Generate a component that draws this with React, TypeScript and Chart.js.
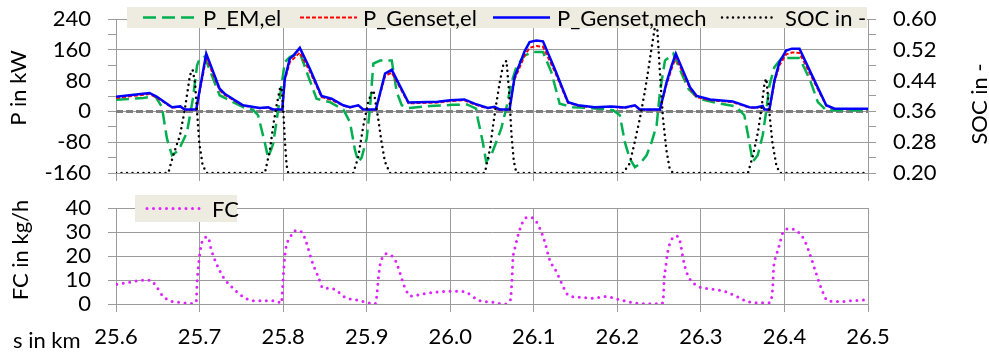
import React, { useEffect, useRef } from 'react';
import { Chart, registerables } from 'chart.js';
Chart.register(...registerables);

// ---------- data ----------
const sTicks = [25.6, 25.7, 25.8, 25.9, 26.0, 26.1, 26.2, 26.3, 26.4, 26.5];
const pTicks = [-160, -120, -80, -40, 0, 40, 80, 120, 160, 200, 240];
const socTicks = [0.2, 0.24, 0.28, 0.32, 0.36, 0.4, 0.44, 0.48, 0.52, 0.56, 0.6];
const fcTicks = [0, 10, 20, 30, 40];

// P_Genset,mech and P_Genset,el share the same distance points
const sGen = [25.600, 25.640, 25.649, 25.667, 25.677, 25.682, 25.696, 25.708, 25.724, 25.730, 25.752, 25.772, 25.782, 25.788, 25.799, 25.802, 25.808, 25.813, 25.820, 25.832, 25.846, 25.858, 25.872, 25.880, 25.890, 25.896, 25.911, 25.922, 25.930, 25.950, 25.985, 26.000, 26.017, 26.029, 26.045, 26.053, 26.059, 26.071, 26.077, 26.089, 26.095, 26.103, 26.111, 26.125, 26.141, 26.153, 26.173, 26.193, 26.209, 26.221, 26.227, 26.251, 26.259, 26.265, 26.270, 26.287, 26.295, 26.311, 26.338, 26.358, 26.366, 26.374, 26.376, 26.382, 26.388, 26.394, 26.402, 26.409, 26.418, 26.434, 26.450, 26.460, 26.500];
const pGensetMech = [38, 48, 38, 11, 13, 5, 5, 150, 59, 46, 16, 9, 11, 5, 5, 85, 137, 147, 165, 111, 40, 33, 16, 11, 16, 5, 5, 98, 108, 23, 25, 29, 31, 20, 9, 12, 5, 5, 89, 156, 180, 184, 182, 111, 24, 16, 11, 13, 10, 16, 5, 5, 76, 119, 150, 63, 40, 31, 26, 11, 10, 14, 5, 5, 80, 128, 158, 163, 163, 89, 16, 7, 7];
const pGensetEl = [35, 45, 36, 10, 12, 4, 4, 140, 55, 43, 15, 8, 10, 4, 4, 80, 128, 138, 153, 104, 37, 30, 15, 10, 15, 4, 4, 92, 101, 21, 23, 27, 29, 18, 8, 11, 4, 4, 83, 145, 165, 170, 168, 104, 22, 15, 10, 12, 9, 15, 4, 4, 71, 111, 140, 59, 37, 29, 24, 10, 9, 13, 4, 4, 75, 120, 148, 153, 152, 83, 15, 6, 6];

const sEM = [25.600, 25.633, 25.647, 25.655, 25.661, 25.667, 25.675, 25.685, 25.692, 25.697, 25.700, 25.706, 25.724, 25.752, 25.764, 25.770, 25.778, 25.782, 25.788, 25.792, 25.797, 25.802, 25.808, 25.820, 25.832, 25.840, 25.856, 25.872, 25.880, 25.886, 25.890, 25.894, 25.900, 25.904, 25.908, 25.916, 25.930, 25.936, 25.942, 25.950, 25.976, 26.003, 26.020, 26.031, 26.033, 26.039, 26.043, 26.049, 26.055, 26.061, 26.067, 26.073, 26.079, 26.089, 26.099, 26.111, 26.121, 26.131, 26.147, 26.179, 26.195, 26.203, 26.209, 26.215, 26.221, 26.227, 26.235, 26.241, 26.247, 26.251, 26.257, 26.267, 26.277, 26.285, 26.297, 26.323, 26.342, 26.352, 26.358, 26.362, 26.368, 26.374, 26.378, 26.382, 26.388, 26.396, 26.405, 26.418, 26.430, 26.440, 26.450, 26.500];
const pEM = [30, 35, 40, 11, -71, -114, -101, -54, 33, 119, 137, 142, 42, 11, 4, -10, -80, -120, -85, -28, 50, 128, 141, 152, 80, 33, 24, 5, -28, -100, -131, -120, -71, 10, 124, 132, 132, 50, 16, 9, 14, 17, 18, 7, -19, -80, -131, -114, -80, -45, 7, 72, 115, 145, 154, 154, 102, 20, 11, 7, 3, -10, -80, -123, -145, -136, -114, -80, -36, 50, 132, 150, 98, 59, 33, 20, 13, -10, -80, -131, -114, -62, -2, 67, 115, 137, 139, 139, 85, 24, 3, 3];

const sSOC = [25.600, 25.6626, 25.6685, 25.6766, 25.6825, 25.6885, 25.6917, 25.6945, 25.6973, 25.6996, 25.7037, 25.7085, 25.7782, 25.7842, 25.7882, 25.7922, 25.7962, 25.7982, 25.8001, 25.8022, 25.8042, 25.8061, 25.8839, 25.8898, 25.8958, 25.9018, 25.9071, 25.9086, 25.9138, 25.9178, 25.9218, 25.9278, 26.0414, 26.0474, 26.0513, 26.0554, 26.0593, 26.0633, 26.0673, 26.0705, 26.0733, 26.0761, 26.0793, 26.2068, 26.2148, 26.2208, 26.2268, 26.2328, 26.2367, 26.2408, 26.2447, 26.2471, 26.2507, 26.2547, 26.2587, 26.2627, 26.2667, 26.3563, 26.3623, 26.3683, 26.3724, 26.3763, 26.3784, 26.3815, 26.3855, 26.3903, 26.3943, 26.500];
const socValues = [0.20, 0.20, 0.246, 0.298, 0.367, 0.454, 0.468, 0.436, 0.35, 0.28, 0.22, 0.20, 0.20, 0.26, 0.324, 0.376, 0.419, 0.423, 0.367, 0.28, 0.22, 0.20, 0.20, 0.24, 0.32, 0.384, 0.415, 0.41, 0.341, 0.28, 0.23, 0.20, 0.20, 0.26, 0.324, 0.384, 0.436, 0.479, 0.492, 0.41, 0.30, 0.23, 0.20, 0.20, 0.225, 0.28, 0.34, 0.41, 0.463, 0.522, 0.575, 0.60, 0.47, 0.34, 0.26, 0.21, 0.20, 0.20, 0.245, 0.306, 0.367, 0.436, 0.445, 0.367, 0.28, 0.22, 0.20, 0.20];

const sFC = [25.601, 25.617, 25.633, 25.641, 25.647, 25.655, 25.665, 25.677, 25.691, 25.696, 25.697, 25.699, 25.701, 25.704, 25.710, 25.714, 25.720, 25.728, 25.740, 25.752, 25.764, 25.780, 25.792, 25.798, 25.799, 25.801, 25.803, 25.808, 25.816, 25.823, 25.828, 25.834, 25.842, 25.848, 25.856, 25.864, 25.874, 25.888, 25.900, 25.910, 25.912, 25.914, 25.916, 25.918, 25.923, 25.930, 25.935, 25.940, 25.945, 25.953, 25.968, 25.984, 26.000, 26.014, 26.021, 26.035, 26.049, 26.064, 26.072, 26.074, 26.075, 26.078, 26.082, 26.087, 26.092, 26.099, 26.107, 26.113, 26.119, 26.127, 26.133, 26.141, 26.155, 26.171, 26.187, 26.200, 26.215, 26.231, 26.253, 26.255, 26.256, 26.258, 26.260, 26.264, 26.269, 26.272, 26.275, 26.279, 26.283, 26.287, 26.299, 26.314, 26.328, 26.342, 26.356, 26.372, 26.382, 26.386, 26.387, 26.390, 26.394, 26.398, 26.406, 26.414, 26.424, 26.430, 26.437, 26.444, 26.452, 26.466, 26.482, 26.498];
const fcValues = [8.2, 9.1, 9.9, 9.9, 8.0, 3.8, 1.3, 0.7, 0.2, 1.0, 8.7, 17, 22.6, 26.8, 27.9, 22.6, 17, 11.4, 6.6, 3.1, 1.4, 1.4, 1.3, 0.3, 4.5, 15.6, 22.6, 27.5, 30.7, 29.6, 25.4, 18.4, 11.4, 6.6, 6.6, 5.6, 2.8, 1.7, 0.7, 0, 3.1, 10.8, 16.3, 18.7, 20.9, 20.1, 17.7, 12.8, 7.5, 3.3, 4.2, 5.0, 5.3, 5.3, 4.5, 1.4, 0.8, 0, 1.7, 10.8, 18.4, 24, 29.6, 34.3, 36.1, 35.8, 31.7, 26.1, 18.4, 13.5, 8.9, 3.8, 2.8, 2.4, 3.1, 2.0, 0.8, 0.1, 0.1, 2.4, 10, 15.6, 21.2, 26.1, 28.2, 28.2, 26.1, 18.4, 13.1, 10.3, 7.0, 6.2, 5.3, 3.3, 1.0, 0.5, 0.5, 7.2, 14.9, 19.8, 24.7, 29.6, 31.3, 30.7, 26.5, 21.2, 13.8, 6.6, 1.3, 1.0, 1.4, 1.7];

const sZero = [25.6, 26.5];
const pZero = [0, 0];

// ---------- style ----------
const FONT = 'Lato, "Open Sans", sans-serif';
const FS = 22;
const GRID = '#9b9b9b';
const LEGEND_BG = '#EEECE1';

const pts = (xs: number[], ys: number[]) => xs.map((x, i) => ({ x, y: ys[i] }));

type LegendItem = { ds: number; x0: number; x1: number; tx: number };
type LegendSpec = { x: number; y: number; w: number; h: number; items: LegendItem[] };
type TitleSpec = { text: string; x: number; y: number; rot: number; align?: CanvasTextAlign };

function makeDeco(legend: LegendSpec, titles: TitleSpec[]) {
  return {
    id: 'deco',
    afterDraw(chart: any) {
      const ctx: CanvasRenderingContext2D = chart.ctx;
      ctx.save();
      ctx.font = `${FS}px ${FONT}`;
      ctx.textBaseline = 'middle';
      ctx.fillStyle = LEGEND_BG;
      ctx.fillRect(legend.x, legend.y, legend.w, legend.h);
      const cy = legend.y + legend.h / 2;
      for (const it of legend.items) {
        const ds = chart.data.datasets[it.ds];
        ctx.save();
        ctx.strokeStyle = ds.borderColor;
        ctx.lineWidth = ds.borderWidth;
        ctx.setLineDash(ds.borderDash || []);
        ctx.lineCap = ds.borderCapStyle || 'butt';
        ctx.beginPath();
        ctx.moveTo(it.x0, cy);
        ctx.lineTo(it.x1, cy);
        ctx.stroke();
        ctx.restore();
        ctx.fillStyle = '#000';
        ctx.textAlign = 'left';
        ctx.fillText(ds.label, it.tx, cy + 1);
      }
      for (const t of titles) {
        ctx.save();
        ctx.translate(t.x, t.y);
        ctx.rotate(t.rot);
        ctx.fillStyle = '#000';
        ctx.textAlign = t.align || 'center';
        ctx.fillText(t.text, 0, 0);
        ctx.restore();
      }
      ctx.restore();
    },
  };
}

const setTicks = (vals: number[]) => (scale: any) => {
  scale.ticks = vals.map((v) => ({ value: v }));
};
const fitV = (w: number) => (s: any) => { s.width = w; s.paddingTop = 0; s.paddingBottom = 0; };
const fitH = (h: number) => (s: any) => { s.height = h; s.paddingLeft = 0; s.paddingRight = 0; };

export default function App() {
  const topRef = useRef<HTMLCanvasElement>(null);
  const botRef = useRef<HTMLCanvasElement>(null);

  useEffect(() => {
    Chart.defaults.font.family = FONT;
    Chart.defaults.font.size = FS;
    Chart.defaults.color = '#000';

    const top = new Chart(topRef.current!, {
      type: 'line',
      data: {
        datasets: [
          { label: 'SOC in -', data: pts(sSOC, socValues), yAxisID: 'ySoc', borderColor: '#000000', borderWidth: 2.5, borderDash: [0, 5.5], borderCapStyle: 'round', pointRadius: 0, order: 1 } as any,
          { label: 'P_Genset,mech', data: pts(sGen, pGensetMech), yAxisID: 'yP', borderColor: '#0000FF', borderWidth: 2.5, pointRadius: 0, order: 2 },
          { label: 'P_Genset,el', data: pts(sGen, pGensetEl), yAxisID: 'yP', borderColor: '#FF0000', borderWidth: 2, borderDash: [4, 2], pointRadius: 0, order: 3 },
          { label: 'P_EM,el', data: pts(sEM, pEM), yAxisID: 'yP', borderColor: '#00B050', borderWidth: 2.5, borderDash: [13, 6], pointRadius: 0, order: 4 },
          { label: '', data: pts(sZero, pZero), yAxisID: 'yP', borderColor: '#808080', borderWidth: 3, borderDash: [7, 3], pointRadius: 0, order: 5 },
        ],
      },
      options: {
        responsive: false,
        animation: false,
        events: [],
        layout: { padding: { top: 19, left: 0, right: 0, bottom: 0 } },
        elements: { line: { tension: 0 }, point: { radius: 0 } },
        plugins: { legend: { display: false }, tooltip: { enabled: false } },
        scales: {
          x: {
            type: 'linear', min: 25.6, max: 26.5,
            afterBuildTicks: setTicks(sTicks),
            ticks: { display: false },
            grid: { color: GRID, tickColor: GRID, tickLength: 8 },
            border: { color: GRID },
            afterFit: fitH(12),
          },
          yP: {
            type: 'linear', position: 'left', min: -160, max: 240,
            afterBuildTicks: setTicks(pTicks),
            ticks: { padding: 17, autoSkip: false, color: '#000', callback: (v: any) => (Math.round(v) % 80 === 0 ? String(v) : '') },
            grid: { color: (c: any) => (c.tick && Math.round(c.tick.value) % 80 === 0 ? GRID : 'rgba(0,0,0,0)'), tickColor: GRID, tickLength: 8 },
            border: { color: GRID },
            afterFit: fitV(116),
          },
          ySoc: {
            type: 'linear', position: 'right', min: 0.2, max: 0.6,
            afterBuildTicks: setTicks(socTicks),
            ticks: { padding: 17, autoSkip: false, color: '#000', callback: (v: any) => (Math.round((v - 0.2) / 0.04) % 2 === 0 ? Number(v).toFixed(2) : '') },
            grid: { drawOnChartArea: false, color: GRID, tickColor: GRID, tickLength: 8 },
            border: { color: GRID },
            afterFit: fitV(121),
          },
        },
      } as any,
      plugins: [
        makeDeco(
          {
            x: 127, y: 7, w: 740, h: 21,
            items: [
              { ds: 3, x0: 143, x1: 197, tx: 203 },
              { ds: 2, x0: 300, x1: 357, tx: 363 },
              { ds: 1, x0: 493, x1: 550, tx: 557 },
              { ds: 0, x0: 722, x1: 773, tx: 785 },
            ],
          },
          [
            { text: 'P in kW', x: 19, y: 88, rot: -Math.PI / 2 },
            { text: 'SOC in -', x: 980, y: 104, rot: -Math.PI / 2 },
          ],
        ) as any,
      ],
    });

    const bot = new Chart(botRef.current!, {
      type: 'line',
      data: {
        datasets: [
          { label: 'FC', data: pts(sFC, fcValues), borderColor: '#DD22FF', borderWidth: 3, borderDash: [0, 6.5], borderCapStyle: 'round', pointRadius: 0, cubicInterpolationMode: 'monotone' } as any,
        ],
      },
      options: {
        responsive: false,
        animation: false,
        events: [],
        layout: { padding: { top: 23, left: 0, right: 121, bottom: 0 } },
        elements: { point: { radius: 0 } },
        plugins: { legend: { display: false }, tooltip: { enabled: false } },
        scales: {
          x: {
            type: 'linear', min: 25.6, max: 26.5,
            afterBuildTicks: setTicks(sTicks),
            ticks: { padding: 12, color: '#000', maxRotation: 0, autoSkip: false, callback: (v: any) => Number(v).toFixed(1) },
            grid: { color: GRID, tickColor: GRID, tickLength: 8 },
            border: { color: GRID },
            afterFit: fitH(52),
          },
          y: {
            type: 'linear', position: 'left', min: 0, max: 40,
            afterBuildTicks: setTicks(fcTicks),
            ticks: { padding: 17, autoSkip: false, color: '#000' },
            grid: { color: GRID, tickColor: GRID, tickLength: 8 },
            border: { color: GRID },
            afterFit: fitV(116),
          },
        },
      } as any,
      plugins: [
        makeDeco(
          { x: 135, y: 10, w: 102, h: 27, items: [{ ds: 0, x0: 147, x1: 200, tx: 212 }] },
          [
            { text: 'FC in kg/h', x: 21, y: 65, rot: -Math.PI / 2 },
            { text: 's in km', x: 13, y: 156, rot: 0, align: 'left' },
          ],
        ) as any,
      ],
    });

    return () => {
      top.destroy();
      bot.destroy();
    };
  }, []);

  return (
    <div style={{ position: 'absolute', left: 0, top: 0, width: 989, height: 356, background: '#fff' }}>
      <canvas ref={topRef} width={989} height={185} style={{ position: 'absolute', left: 0, top: 0 }} />
      <canvas ref={botRef} width={989} height={171} style={{ position: 'absolute', left: 0, top: 185 }} />
    </div>
  );
}
